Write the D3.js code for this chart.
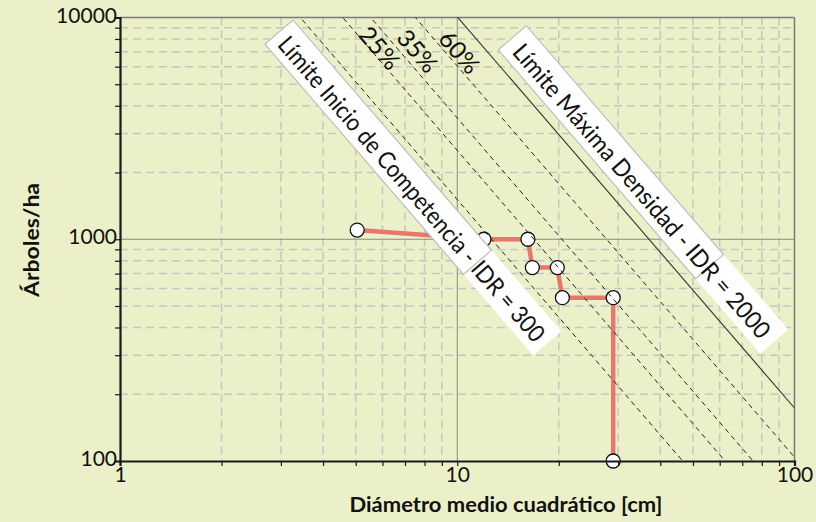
<!DOCTYPE html>
<html><head><meta charset="utf-8">
<script src="https://cdn.jsdelivr.net/npm/d3@7"></script>
<style>
html,body{margin:0;padding:0;background:#ebf0c8;}
svg{display:block;font-family:Lato,"Open Sans",sans-serif;}
</style></head>
<body>
<svg id="c" width="816" height="522"></svg>
<script>
// ---- data ----
const dmc = [5.05, 12, 16.2, 16.7, 19.8, 20.5, 29, 29];          // Diámetro medio cuadrático [cm]
const arboles = [1100, 1000, 1000, 745, 745, 545, 545, 100];     // Árboles/ha
const xTickLabels = [1, 10, 100];
const yTickLabels = [100, 1000, 10000];
const idrMax = 2000;
const idrComp = 300;
const pctLines = [0.15, 0.25, 0.35, 0.60];
const pctLabels = ["25%", "35%", "60%"];
const pctLabelPos = [[5.91, 7324], [7.66, 7096], [10.2, 7022]];
const reinekeExp = -1.764;
const refD = 25;

const W = 816, H = 522;
const svg = d3.select("#c");
svg.append("rect").attr("width", W).attr("height", H).attr("fill", "#ebf0c8");

const x = d3.scaleLog().domain([1, 100]).range([120, 794.5]);
const y = d3.scaleLog().domain([100, 10000]).range([461, 17.5]);

const minorX = [];
for (let d = 1; d <= 10; d *= 10) for (let k = 1; k <= 9; k++) minorX.push(k * d);
minorX.push(100);
const minorY = [];
for (let d = 100; d <= 1000; d *= 10) for (let k = 1; k <= 9; k++) minorY.push(k * d);
minorY.push(10000);

// grid
const g = svg.append("g");
g.selectAll(".gx").data(minorX.filter(v => v > 1 && v < 100 && v !== 10)).enter().append("line")
  .attr("x1", d => x(d)).attr("x2", d => x(d)).attr("y1", y(10000)).attr("y2", y(100))
  .attr("stroke", "#c6c6c0").attr("stroke-width", 1.5).attr("stroke-dasharray", "8,5");
g.selectAll(".gy").data(minorY.filter(v => v > 100 && v < 10000 && v !== 1000)).enter().append("line")
  .attr("y1", d => y(d)).attr("y2", d => y(d)).attr("x1", x(1)).attr("x2", x(100))
  .attr("stroke", "#c6c6c0").attr("stroke-width", 1.5).attr("stroke-dasharray", "8,5");
g.append("line").attr("x1", x(10)).attr("x2", x(10)).attr("y1", y(10000)).attr("y2", y(100))
  .attr("stroke", "#8a8a86").attr("stroke-width", 1);
g.append("line").attr("y1", y(1000)).attr("y2", y(1000)).attr("x1", x(1)).attr("x2", x(100))
  .attr("stroke", "#8a8a86").attr("stroke-width", 1);

// borders
svg.append("line").attr("x1", x(1)).attr("x2", x(100)).attr("y1", y(10000)).attr("y2", y(10000))
  .attr("stroke", "#7a7a7a").attr("stroke-width", 1.5);
svg.append("line").attr("x1", x(100)).attr("x2", x(100)).attr("y1", y(10000)).attr("y2", y(100))
  .attr("stroke", "#7a7a7a").attr("stroke-width", 1.5);

// clip
svg.append("clipPath").attr("id", "clip").append("rect")
  .attr("x", x(1)).attr("y", y(10000)).attr("width", x(100) - x(1)).attr("height", y(100) - y(10000));

// data line + markers
const line = d3.line().x((d, i) => x(dmc[i])).y((d, i) => y(arboles[i]));
svg.append("path").datum(dmc).attr("d", line).attr("fill", "none")
  .attr("stroke", "#e8776b").attr("stroke-width", 4.5).attr("stroke-linejoin", "miter");
svg.selectAll(".pt").data(dmc).enter().append("circle")
  .attr("cx", (d, i) => x(dmc[i])).attr("cy", (d, i) => y(arboles[i])).attr("r", 7)
  .attr("fill", "#fff").attr("stroke", "#111").attr("stroke-width", 1.3);

// reference lines
const refG = svg.append("g").attr("clip-path", "url(#clip)");
const N = (idr, D) => idr * Math.pow(D / refD, reinekeExp);
const dRange = [1, 100];
pctLines.forEach(p => {
  refG.append("line")
    .attr("x1", x(dRange[0])).attr("y1", y(N(idrMax * p, dRange[0])))
    .attr("x2", x(dRange[1])).attr("y2", y(N(idrMax * p, dRange[1])))
    .attr("stroke", "#222").attr("stroke-width", 1).attr("stroke-dasharray", "5,4");
});
refG.append("line")
  .attr("x1", x(dRange[0])).attr("y1", y(N(idrMax, dRange[0])))
  .attr("x2", x(dRange[1])).attr("y2", y(N(idrMax, dRange[1])))
  .attr("stroke", "#333").attr("stroke-width", 1.1);

const ang = Math.atan2(y(N(idrMax, 10)) - y(N(idrMax, 100)), x(100) - x(10)) * -180 / Math.PI;

// percent labels
pctLabels.forEach((t, i) => {
  svg.append("text")
    .attr("transform", `translate(${x(pctLabelPos[i][0])},${y(pctLabelPos[i][1])}) rotate(${ang})`)
    .attr("text-anchor", "middle").attr("dominant-baseline", "central")
    .attr("font-size", 24).attr("fill", "#111")
    .attr("textLength", 48).attr("lengthAdjust", "spacingAndGlyphs").text(t);
});

// boxed labels
function boxLabel(cx, cy, txt, boxLen, borderLen, txtLen) {
  const gg = svg.append("g").attr("transform", `translate(${x(cx)},${y(cy)}) rotate(${ang})`);
  gg.append("rect").attr("x", -boxLen / 2).attr("y", -18.5).attr("width", boxLen).attr("height", 37)
    .attr("fill", "#fff");
  gg.append("rect").attr("x", -boxLen / 2).attr("y", -18.5).attr("width", borderLen).attr("height", 37)
    .attr("fill", "none").attr("stroke", "#bdbdbd").attr("stroke-width", 1.2);
  gg.append("text").attr("x", 0).attr("y", 1).attr("text-anchor", "middle").attr("dominant-baseline", "central")
    .attr("font-size", 24).attr("fill", "#111")
    .attr("textLength", txtLen).attr("lengthAdjust", "spacingAndGlyphs").text(txt);
}
boxLabel(7.40, 1708, "Límite Inicio de Competencia - IDR = " + idrComp, 411, 304, 394);
boxLabel(35.6, 1673, "Límite Máxima Densidad - IDR = " + idrMax, 401, 302, 380);

// axes
const xAxis = d3.axisBottom(x).tickValues(minorX).tickSize(5)
  .tickFormat(d => xTickLabels.includes(d) ? d : "");
const xa = svg.append("g").attr("transform", `translate(0,${y(100)})`).call(xAxis);
xa.select(".domain").attr("stroke", "#1a1a1a").attr("stroke-width", 2.2);
xa.selectAll(".tick line").attr("stroke", "#1a1a1a").attr("stroke-width", 1.2);
xa.selectAll(".tick text").attr("font-size", 21).attr("font-family", "Lato").attr("fill", "#111").attr("dy", "0.6em");

const yAxis = d3.axisLeft(y).tickValues(minorY).tickSize(5)
  .tickFormat(d => yTickLabels.includes(d) ? d : "");
const ya = svg.append("g").attr("transform", `translate(${x(1)},0)`).call(yAxis);
ya.select(".domain").attr("stroke", "#1a1a1a").attr("stroke-width", 2.2);
ya.selectAll(".tick line").attr("stroke", "#1a1a1a").attr("stroke-width", 1.2);
ya.selectAll(".tick text").attr("font-size", 21).attr("font-family", "Lato").attr("fill", "#111")
  .attr("x", -3).attr("dy", "0.22em");

// axis titles
svg.append("text").attr("x", 506).attr("y", 512).attr("text-anchor", "middle")
  .attr("font-size", 21).attr("font-weight", "bold").attr("fill", "#111")
  .attr("textLength", 313).attr("lengthAdjust", "spacingAndGlyphs")
  .text("Diámetro medio cuadrático [cm]");
svg.append("text").attr("transform", "translate(39,240) rotate(-90)").attr("text-anchor", "middle")
  .attr("font-size", 21).attr("font-weight", "bold").attr("fill", "#111")
  .attr("textLength", 114).attr("lengthAdjust", "spacingAndGlyphs")
  .text("Árboles/ha");
</script>
</body></html>
